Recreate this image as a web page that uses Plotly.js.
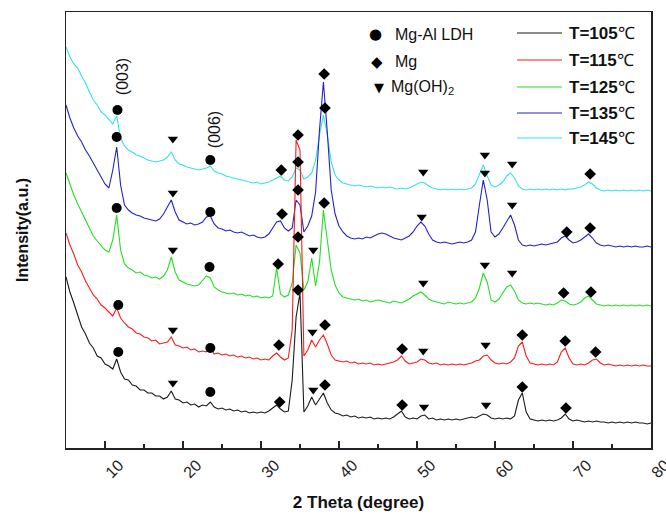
<!DOCTYPE html>
<html>
<head>
<meta charset="utf-8">
<script src="https://cdn.plot.ly/plotly-3.0.1.min.js"></script>
<style>html,body{margin:0;padding:0;background:#fff;}#chart{width:666px;height:515px;}</style>
</head>
<body>
<div id="chart"></div>
<script>
// 2-theta sampling grid: 5.0 to 80.0 in 0.5 degree steps (151 samples)
const theta = [];
for (let i = 0; i <= 150; i++) theta.push(5 + i * 0.5);

// Intensities (arbitrary units, already offset/stacked as in the figure)
const int105 = [
171,156,145,132,121,114,105,100,92,90,
84,82,79,89,76,69,68,63,62,58,
58,55,55,52,52,49,51,57,49,48,
45,46,43,44,41,43,42,46,41,39,
40,38,39,37,38,36,37,35,36,35,
36,35,37,40,43,39,36,37,68,131,
155,36,42,51,43,49,55,45,38,35,
34,32,33,31,32,30,31,30,31,29,
30,29,30,29,31,34,37,31,29,30,
29,32,33,29,30,28,29,28,29,28,
29,28,29,30,31,30,32,34,33,30,
29,30,29,30,29,32,48,55,36,29,
28,27,28,27,28,27,28,30,34,29,
27,28,27,26,27,26,27,26,26,25,
26,25,26,25,26,25,26,25,25,24,
25];
const int115 = [
215,203,194,183,176,167,160,153,149,143,
140,136,132,140,130,125,121,119,115,114,
111,110,107,108,104,105,106,111,103,102,
100,101,98,99,96,97,96,100,94,95,
93,94,92,93,91,92,90,91,89,90,
88,89,88,92,95,91,88,90,118,308,
298,92,98,108,101,108,113,104,93,88,
87,86,87,85,86,84,85,84,85,83,
84,83,84,85,86,88,92,87,84,85,
86,89,88,85,84,85,83,84,83,84,
83,84,83,84,85,87,88,92,93,88,
85,84,85,84,86,90,102,106,92,85,
84,83,84,83,84,83,86,96,100,90,
84,83,84,83,85,88,89,85,83,84,
83,82,83,82,83,82,83,82,83,82,
82];
const int125 = [
275,263,253,244,236,228,220,212,207,203,
198,196,208,233,198,184,180,178,175,176,
173,172,170,171,169,172,178,191,176,168,
166,164,163,162,163,167,172,170,161,158,
156,155,154,155,153,154,152,153,151,152,
150,151,150,152,180,154,151,153,165,203,
195,158,166,190,162,186,238,208,178,163,
155,151,150,149,148,149,147,148,146,147,
148,147,146,145,147,146,145,147,149,152,
154,156,153,149,147,146,145,144,146,145,
144,145,144,145,146,150,160,175,166,148,
146,149,155,161,163,157,148,145,144,145,
144,145,144,143,144,143,145,148,147,144,
143,144,146,150,152,148,144,143,142,143,
142,143,142,143,142,143,142,143,142,143,
142];
const int135 = [
343,330,320,312,306,298,292,285,278,271,
264,260,278,301,263,243,238,235,233,232,
230,229,228,227,229,234,241,248,236,228,
226,224,225,223,224,226,231,232,224,220,
219,217,218,216,215,216,214,212,213,211,
210,211,214,220,226,227,220,217,220,248,
243,216,222,232,256,318,366,316,258,234,
222,216,212,210,209,210,209,211,210,212,
214,215,214,212,210,209,208,210,212,216,
222,226,222,214,208,206,205,206,205,204,
205,206,205,206,208,216,243,268,248,216,
211,214,220,226,233,223,208,203,202,203,
202,203,204,203,204,205,206,210,212,208,
205,206,208,211,214,210,205,203,202,203,
202,201,202,201,202,201,202,201,201,202,
201];
const int145 = [
401,391,384,380,372,365,356,348,343,336,
333,328,324,332,310,302,298,296,293,292,
290,288,287,286,287,288,291,296,288,284,
283,281,280,279,278,279,280,282,277,275,
274,272,271,270,269,268,267,266,265,266,
264,265,266,268,270,272,268,267,271,280,
278,269,271,275,288,313,333,313,286,273,
268,265,264,263,262,263,262,261,262,261,
260,261,260,261,260,259,260,259,260,262,
264,266,265,262,260,259,258,259,258,259,
258,259,258,259,260,264,273,283,272,263,
261,263,266,272,275,270,262,259,258,259,
258,259,258,259,258,259,258,259,258,259,
259,260,261,263,266,264,260,258,257,258,
257,258,257,258,257,258,257,258,257,258,
257];

// Phase markers (2-theta, intensity position)
const ldhTheta = [11.7, 23.5, 11.7, 23.5, 11.5, 23.4, 11.5, 23.5, 11.6, 23.5];
const ldhInt   = [96, 56, 143, 100, 240, 181, 311, 236, 338, 288];
const mgTheta = [32.4, 34.75, 38.2, 48.1, 63.5, 69.1,
                 32.3, 34.75, 38.2, 48.1, 63.5, 69.0, 72.9,
                 32.2, 34.75, 38.1, 68.8, 72.3,
                 32.7, 34.75, 38.1, 69.2, 72.2,
                 32.6, 34.75, 38.2, 72.2];
const mgInt   = [46, 158, 63, 43, 61, 40,
                 103, 313, 123, 99, 113, 107, 96,
                 184, 211, 245, 155, 156,
                 234, 258, 374, 216, 220,
                 278, 286, 340, 274];
const ohTheta = [18.7, 36.7, 50.9, 58.85,
                 18.7, 36.6, 50.8, 58.8,
                 18.7, 36.7, 50.8, 58.7, 62.2,
                 18.7, 50.6, 58.7, 62.2,
                 18.7, 50.8, 58.7, 62.2];
const ohInt   = [65, 58, 41, 43,
                 118, 116, 97, 103,
                 198, 198, 165, 183, 175,
                 255, 231, 275, 243,
                 309, 276, 293, 284];

const seriesNames = ['T=105', 'T=115', 'T=125', 'T=135', 'T=145'];
const seriesColors = ['#1a1a1a', '#ff1a1a', '#22e022', '#2222cc', '#33e3e3'];
const seriesData = [int105, int115, int125, int135, int145];
const drawOrder = [0, 4, 2, 3, 1];

const FONT = 'Arial, "Liberation Sans", sans-serif';
const traces = [];
drawOrder.forEach(i => {
  traces.push({
    type: 'scatter', mode: 'lines', x: theta, y: seriesData[i],
    name: seriesNames[i] + '℃',
    line: {color: seriesColors[i], width: 1.1},
    hoverinfo: 'skip', showlegend: false
  });
});
traces.push({type: 'scatter', mode: 'markers', x: ldhTheta, y: ldhInt, name: 'Mg-Al LDH',
  marker: {symbol: 'circle', size: 10, color: '#000'}, showlegend: false, hoverinfo: 'skip'});
traces.push({type: 'scatter', mode: 'markers', x: mgTheta, y: mgInt, name: 'Mg',
  marker: {symbol: 'diamond', size: 9, color: '#000'}, showlegend: false, hoverinfo: 'skip'});
traces.push({type: 'scatter', mode: 'markers', x: ohTheta, y: ohInt, name: 'Mg(OH)2',
  marker: {symbol: 'triangle-down', size: 9, color: '#000'}, showlegend: false, hoverinfo: 'skip'});

// custom legend
const annotations = [];
const shapes = [];
const PX = px => (px - 66) / 585;
const PY = py => (448 - py) / 436;
const legY = [33, 60, 87, 113, 138];
seriesNames.forEach((n, i) => {
  shapes.push({type: 'line', xref: 'paper', yref: 'paper', x0: PX(517), x1: PX(562), y0: PY(legY[i]), y1: PY(legY[i]),
    line: {color: seriesColors[i], width: 1.2}});
  annotations.push({xref: 'paper', yref: 'paper', x: PX(567), y: PY(legY[i]), xanchor: 'left', yanchor: 'middle',
    text: '<b>' + n + '</b>℃', showarrow: false, font: {family: FONT, size: 17, color: '#111'}});
});
const symLeg = [
  {g: '●', t: 'Mg-Al LDH', y: 34, gx: 375, tx: 393, gs: 15},
  {g: '◆', t: 'Mg', y: 62, gx: 377, tx: 393, gs: 15},
  {g: '▼', t: 'Mg(OH)<sub>2</sub>', y: 87, gx: 379, tx: 389, gs: 13}
];
symLeg.forEach(s => {
  annotations.push({xref: 'paper', yref: 'paper', x: PX(s.gx), y: PY(s.y), xanchor: 'center', yanchor: 'middle',
    text: s.g, showarrow: false, font: {family: 'DejaVu Sans', size: s.gs, color: '#000'}});
  annotations.push({xref: 'paper', yref: 'paper', x: PX(s.tx), y: PY(s.y), xanchor: 'left', yanchor: 'middle',
    text: s.t, showarrow: false, font: {family: FONT, size: 16, color: '#111'}});
});
// reflection labels
annotations.push({x: 12.2, y: 371, xref: 'x', yref: 'y', text: '(003)', textangle: -90, showarrow: false,
  font: {family: FONT, size: 16, color: '#111'}});
annotations.push({x: 24.0, y: 318, xref: 'x', yref: 'y', text: '(006)', textangle: -90, showarrow: false,
  font: {family: FONT, size: 16, color: '#111'}});

const layout = {
  width: 666, height: 515,
  margin: {l: 66, r: 15, t: 12, b: 67},
  paper_bgcolor: '#fff', plot_bgcolor: '#fff',
  showlegend: false,
  xaxis: {
    range: [5, 80], tick0: 0, dtick: 10, ticks: 'inside', ticklen: 7, tickwidth: 1.5, tickcolor: '#222',
    minor: {dtick: 5, tick0: 0, ticks: 'inside', ticklen: 4, tickwidth: 1.2, tickcolor: '#222'},
    showline: true, linecolor: '#222', linewidth: 1.5, mirror: true, showgrid: false, zeroline: false,
    tickangle: -45, ticklabelshift: 14, ticklabeloverflow: 'allow',
    tickfont: {family: FONT, size: 16, color: '#222'},
    title: {text: '<b>2 Theta (degree)</b>', font: {family: FONT, size: 17, color: '#111'}, standoff: 16}
  },
  yaxis: {
    range: [0, 436], showticklabels: false, ticks: '', showgrid: false, zeroline: false,
    showline: true, linecolor: '#222', linewidth: 1.5, mirror: true,
    title: {text: '<b>Intensity(a.u.)</b>', font: {family: FONT, size: 16, color: '#111'}, standoff: 32}
  },
  annotations: annotations,
  shapes: shapes
};
Plotly.newPlot('chart', traces, layout, {staticPlot: true});
</script>
</body>
</html>
